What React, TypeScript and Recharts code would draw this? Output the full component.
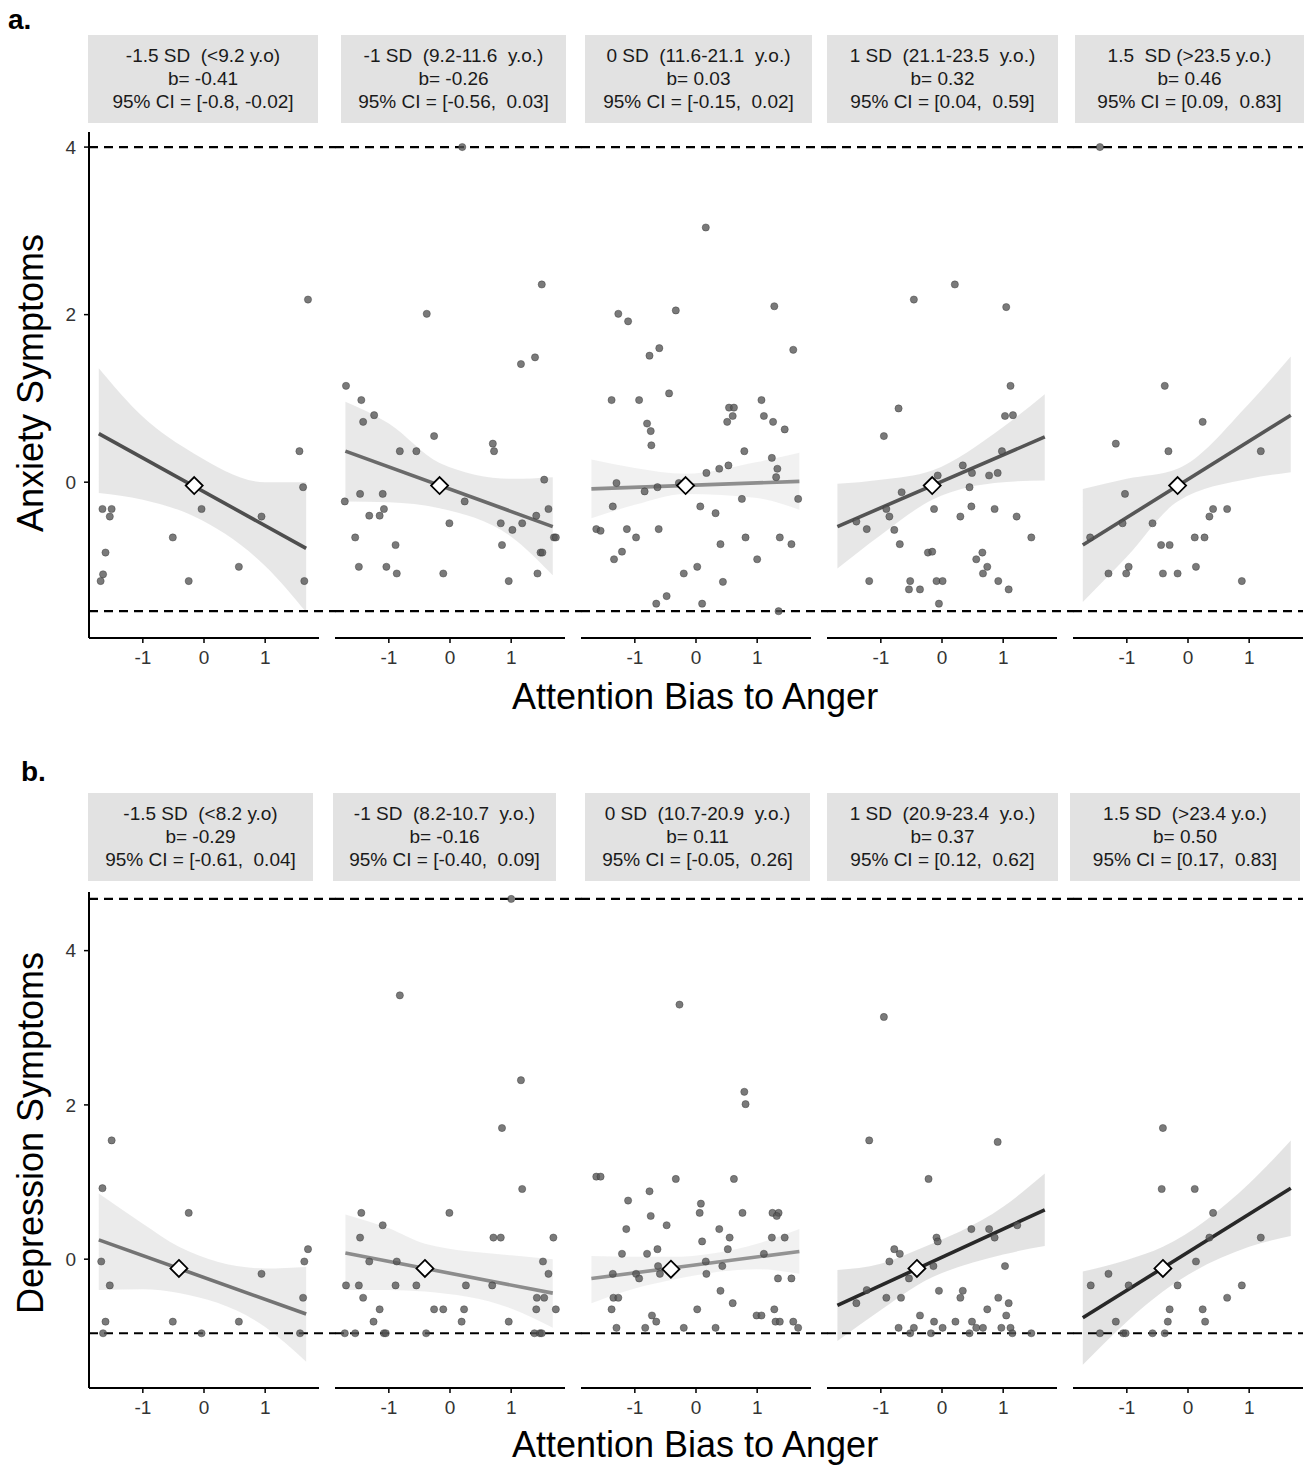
import React from 'react';
import { ComposedChart, Scatter, Area, Line, XAxis, YAxis, ReferenceLine } from 'recharts';

// ---- panel a: anxiety ----
const anxPts1 = [
  [-1.66, -0.32], [-1.51, -0.32], [-1.54, -0.41], [-1.61, -0.84], [-1.65, -1.1], [-1.69, -1.18],
  [-0.51, -0.66], [-0.25, -1.18], [-0.04, -0.32], [0.57, -1.01], [0.94, -0.41], [1.56, 0.37],
  [1.62, -0.06], [1.64, -1.18], [1.7, 2.18],
];
const anxPts2 = [
  [0.2, 4.0], [1.5, 2.36], [-0.38, 2.01], [1.39, 1.49], [1.16, 1.41], [-1.7, 1.15], [-1.45, 0.98],
  [-1.24, 0.8], [-1.42, 0.72], [-0.26, 0.55], [-0.82, 0.37], [-0.55, 0.37], [0.7, 0.46], [0.72, 0.37],
  [1.54, 0.03], [-1.47, -0.14], [-1.1, -0.14], [-1.72, -0.23], [0.24, -0.23], [-1.08, -0.32],
  [-1.32, -0.4], [-1.15, -0.4], [-0.01, -0.49], [0.83, -0.49], [1.02, -0.57], [1.18, -0.49],
  [1.41, -0.4], [1.61, -0.32], [-1.55, -0.66], [-0.89, -0.75], [0.85, -0.75], [1.7, -0.66],
  [1.73, -0.66], [1.48, -0.84], [1.51, -0.84], [-1.49, -1.01], [-1.04, -1.01], [-0.87, -1.09],
  [-0.11, -1.09], [1.43, -1.09], [0.96, -1.18],
];
const anxPts3 = [
  [0.16, 3.04], [-1.27, 2.01], [-1.11, 1.92], [-0.33, 2.05], [1.28, 2.1], [1.59, 1.58], [-0.76, 1.51],
  [-0.6, 1.6], [-0.44, 1.06], [-1.38, 0.98], [-0.93, 0.98], [1.07, 0.98], [0.54, 0.89], [0.62, 0.89],
  [0.6, 0.79], [0.51, 0.72], [1.11, 0.79], [1.26, 0.72], [1.45, 0.63], [-0.8, 0.7], [-0.74, 0.61],
  [-0.73, 0.44], [0.79, 0.37], [1.24, 0.29], [0.53, 0.2], [0.38, 0.16], [0.17, 0.11], [1.33, 0.16],
  [1.31, 0.06], [-1.3, -0.01], [-0.84, -0.11], [-0.63, -0.06], [-0.28, -0.01], [-1.36, -0.29],
  [0.07, -0.29], [0.75, -0.2], [1.67, -0.2], [0.32, -0.37], [-1.63, -0.56], [-1.56, -0.58],
  [-1.13, -0.56], [-0.61, -0.56], [-0.98, -0.66], [0.81, -0.66], [1.37, -0.66], [0.4, -0.74],
  [1.56, -0.74], [-1.21, -0.83], [-1.34, -0.92], [1.0, -0.92], [0.02, -1.01], [-0.2, -1.09],
  [0.44, -1.19], [-0.48, -1.36], [-0.65, -1.45], [0.1, -1.45], [1.35, -1.54],
];
const anxPts4 = [
  [0.21, 2.36], [-0.46, 2.18], [1.05, 2.09], [1.12, 1.15], [1.03, 0.79], [1.16, 0.8], [-0.71, 0.88],
  [-0.95, 0.55], [0.98, 0.37], [0.34, 0.2], [0.49, 0.11], [-0.07, 0.08], [0.77, 0.08], [0.91, 0.11],
  [0.45, -0.06], [-0.66, -0.12], [-0.91, -0.32], [-0.13, -0.32], [0.48, -0.29], [0.86, -0.32],
  [-0.86, -0.41], [0.3, -0.41], [1.22, -0.41], [-1.4, -0.47], [-1.23, -0.56], [-0.78, -0.57],
  [-0.69, -0.74], [1.46, -0.66], [-0.23, -0.84], [-0.16, -0.83], [0.66, -0.84], [0.56, -0.92],
  [0.74, -1.01], [0.67, -1.09], [-1.19, -1.18], [-0.52, -1.18], [-0.54, -1.28], [-0.36, -1.28],
  [-0.09, -1.18], [0.01, -1.18], [0.92, -1.18], [1.09, -1.28], [-0.05, -1.45],
];
const anxPts5 = [
  [-1.44, 4.0], [-0.38, 1.15], [0.24, 0.72], [-1.18, 0.46], [-0.32, 0.37], [1.19, 0.37], [-1.03, -0.14],
  [0.41, -0.32], [0.64, -0.32], [0.35, -0.41], [-1.07, -0.49], [-0.58, -0.49], [-1.6, -0.66],
  [0.11, -0.66], [0.27, -0.66], [-0.44, -0.75], [-0.3, -0.75], [-0.97, -1.01], [0.13, -1.01],
  [-1.3, -1.09], [-1.01, -1.09], [-0.41, -1.09], [-0.17, -1.09], [0.88, -1.18],
];

// confidence band: [x, lower, upper]
const anxBand1 = [[-1.72, -0.13, 1.36], [-1.0, -0.21, 0.78], [-0.16, -0.41, 0.34], [1.0, -1.0, 0.0], [1.67, -1.55, 0.0]];
const anxBand2 = [[-1.71, -0.23, 0.96], [-1.0, -0.24, 0.7], [-0.17, -0.31, 0.23], [1.0, -0.65, 0.04], [1.68, -1.11, 0.06]];
const anxBand3 = [[-1.71, -0.43, 0.27], [-1.0, -0.27, 0.17], [-0.17, -0.14, 0.1], [1.0, -0.19, 0.24], [1.69, -0.33, 0.35]];
const anxBand4 = [[-1.71, -1.03, -0.02], [-1.0, -0.63, 0.03], [-0.16, -0.21, 0.14], [1.0, 0.0, 0.66], [1.68, 0.02, 1.05]];
const anxBand5 = [[-1.72, -1.43, -0.08], [-1.0, -0.89, 0.04], [-0.17, -0.23, 0.16], [1.0, 0.04, 0.94], [1.68, 0.12, 1.5]];

// fitted line: [x0, y0, x1, y1]
const anxFit = [
  [-1.72, 0.58, 1.67, -0.79],
  [-1.71, 0.37, 1.68, -0.53],
  [-1.71, -0.08, 1.69, 0.01],
  [-1.71, -0.53, 1.68, 0.54],
  [-1.72, -0.75, 1.68, 0.8],
];
const anxCenter = [[-0.16, -0.04], [-0.17, -0.04], [-0.17, -0.04], [-0.16, -0.04], [-0.17, -0.04]];

// ---- panel b: depression ----
const depPts1 = [
  [-1.51, 1.54], [-1.66, 0.92], [-0.25, 0.6], [-1.68, -0.03], [-1.54, -0.34], [-1.61, -0.81],
  [-1.65, -0.96], [-0.51, -0.81], [-0.04, -0.96], [0.57, -0.81], [0.94, -0.19], [1.7, 0.13],
  [1.64, -0.03], [1.62, -0.5], [1.57, -0.96],
];
const depPts2 = [
  [1.0, 4.67], [-0.82, 3.42], [1.16, 2.32], [0.85, 1.7], [1.18, 0.91], [-1.45, 0.6], [-0.01, 0.6],
  [-1.1, 0.44], [-1.47, 0.28], [0.71, 0.28], [0.83, 0.28], [1.69, 0.28], [-1.32, -0.03], [-0.87, -0.03],
  [1.52, -0.03], [1.61, -0.19], [-1.7, -0.34], [-1.49, -0.34], [-0.89, -0.34], [-0.55, -0.34],
  [0.26, -0.34], [0.69, -0.34], [-1.42, -0.5], [1.42, -0.5], [1.54, -0.5], [-1.15, -0.65],
  [-0.26, -0.65], [-0.11, -0.65], [0.23, -0.65], [1.41, -0.65], [1.73, -0.65], [-1.25, -0.81],
  [0.19, -0.81], [0.96, -0.81], [-1.72, -0.96], [-1.55, -0.96], [-1.08, -0.96], [-1.05, -0.96],
  [-0.39, -0.96], [1.38, -0.96], [1.47, -0.96], [1.5, -0.96],
];
const depPts3 = [
  [-0.27, 3.3], [0.79, 2.17], [0.81, 2.01], [-1.63, 1.07], [-1.56, 1.07], [-0.33, 1.04], [0.62, 1.04],
  [-0.76, 0.88], [-1.11, 0.76], [0.08, 0.72], [0.06, 0.6], [0.76, 0.6], [1.25, 0.6], [1.35, 0.6],
  [1.32, 0.56], [-0.74, 0.56], [-0.48, 0.44], [-1.14, 0.39], [0.38, 0.39], [0.55, 0.28], [1.24, 0.28],
  [1.45, 0.28], [0.1, 0.23], [0.52, 0.13], [-0.63, 0.13], [-0.8, 0.07], [-1.21, 0.07], [1.11, 0.07],
  [0.16, -0.03], [-0.62, -0.09], [0.43, -0.09], [-1.36, -0.19], [-0.98, -0.19], [-0.59, -0.19],
  [0.17, -0.19], [-0.93, -0.25], [1.34, -0.25], [1.56, -0.25], [0.4, -0.41], [-1.35, -0.5],
  [-1.27, -0.5], [0.6, -0.57], [-1.38, -0.65], [0.02, -0.65], [1.28, -0.65], [-0.72, -0.73],
  [0.99, -0.73], [1.07, -0.73], [-0.65, -0.81], [1.3, -0.81], [1.37, -0.81], [1.59, -0.81],
  [-1.3, -0.89], [-0.83, -0.89], [-0.2, -0.89], [0.32, -0.89], [1.67, -0.89],
];
const depPts4 = [
  [-0.95, 3.14], [-1.19, 1.54], [0.91, 1.52], [-0.22, 1.04], [0.48, 0.39], [0.77, 0.39], [1.23, 0.44],
  [0.86, 0.28], [-0.09, 0.28], [-0.07, 0.23], [-0.78, 0.13], [-0.69, 0.07], [-0.86, -0.03],
  [-0.14, -0.09], [1.03, -0.09], [-0.54, -0.25], [-1.23, -0.4], [-0.05, -0.41], [0.34, -0.41],
  [-0.91, -0.5], [-0.67, -0.5], [0.3, -0.5], [0.92, -0.5], [-1.4, -0.57], [1.09, -0.57], [0.74, -0.65],
  [-0.36, -0.73], [1.05, -0.73], [-0.71, -0.89], [-0.46, -0.89], [-0.13, -0.81], [0.01, -0.89],
  [0.22, -0.81], [0.49, -0.81], [0.56, -0.89], [0.67, -0.89], [0.97, -0.89], [1.12, -0.89],
  [-0.52, -0.96], [-0.18, -0.96], [0.45, -0.96], [1.15, -0.96], [1.46, -0.96],
];
const depPts5 = [
  [-0.41, 1.7], [-0.43, 0.91], [0.11, 0.91], [0.41, 0.6], [0.35, 0.28], [1.19, 0.28], [0.13, -0.03],
  [-1.3, -0.19], [-1.59, -0.34], [-0.97, -0.34], [-0.17, -0.34], [0.88, -0.34], [0.64, -0.5],
  [-0.3, -0.65], [0.24, -0.65], [-1.18, -0.81], [-0.33, -0.81], [0.28, -0.81], [-1.44, -0.96],
  [-1.06, -0.96], [-1.02, -0.96], [-0.58, -0.96], [-0.38, -0.96],
];

const depBand1 = [[-1.72, -0.4, 0.85], [-1.0, -0.39, 0.46], [-0.41, -0.44, 0.16], [1.0, -0.88, -0.12], [1.67, -1.33, -0.1]];
const depBand2 = [[-1.71, -0.4, 0.58], [-1.0, -0.4, 0.4], [-0.41, -0.42, 0.2], [1.0, -0.64, 0.05], [1.68, -0.89, 0.0]];
const depBand3 = [[-1.71, -0.57, 0.04], [-1.0, -0.38, 0.03], [-0.41, -0.27, 0.03], [1.0, -0.13, 0.2], [1.69, -0.19, 0.39]];
const depBand4 = [[-1.71, -1.06, -0.14], [-1.0, -0.66, -0.06], [-0.41, -0.34, 0.12], [1.0, 0.06, 0.68], [1.68, 0.17, 1.11]];
const depBand5 = [[-1.72, -1.37, -0.16], [-1.0, -0.81, -0.01], [-0.41, -0.42, 0.16], [1.0, 0.16, 0.98], [1.68, 0.3, 1.54]];

const depFit = [
  [-1.72, 0.25, 1.67, -0.71],
  [-1.71, 0.08, 1.68, -0.44],
  [-1.71, -0.25, 1.69, 0.1],
  [-1.71, -0.6, 1.68, 0.64],
  [-1.72, -0.76, 1.68, 0.92],
];
const depCenter = [[-0.41, -0.12], [-0.41, -0.12], [-0.41, -0.13], [-0.41, -0.12], [-0.41, -0.12]];

const anxStrips = [
  ['-1.5 SD  (<9.2 y.o)', 'b= -0.41', '95% CI = [-0.8, -0.02]'],
  ['-1 SD  (9.2-11.6  y.o.)', 'b= -0.26', '95% CI = [-0.56,  0.03]'],
  ['0 SD  (11.6-21.1  y.o.)', 'b= 0.03', '95% CI = [-0.15,  0.02]'],
  ['1 SD  (21.1-23.5  y.o.)', 'b= 0.32', '95% CI = [0.04,  0.59]'],
  ['1.5  SD (>23.5 y.o.)', 'b= 0.46', '95% CI = [0.09,  0.83]'],
];
const depStrips = [
  ['-1.5 SD  (<8.2 y.o)', 'b= -0.29', '95% CI = [-0.61,  0.04]'],
  ['-1 SD  (8.2-10.7  y.o.)', 'b= -0.16', '95% CI = [-0.40,  0.09]'],
  ['0 SD  (10.7-20.9  y.o.)', 'b= 0.11', '95% CI = [-0.05,  0.26]'],
  ['1 SD  (20.9-23.4  y.o.)', 'b= 0.37', '95% CI = [0.12,  0.62]'],
  ['1.5 SD  (>23.4 y.o.)', 'b= 0.50', '95% CI = [0.17,  0.83]'],
];

const xTicks = [-1, 0, 1];
const yTicks = [0, 2, 4];
const anxRefs = [4, -1.54];
const depRefs = [4.67, -0.96];

// layout
const FONT = '"Liberation Sans", Arial, Helvetica, sans-serif';
const X_DOMAIN: [number, number] = [-1.88, 1.88];
const PANEL_LEFT = [89, 335, 581, 827, 1073];
const PANEL_W = 230;
const GAP_UNITS = 0.27;
const Y_AXIS_W = 44;
const M_TOP = 6;
const M_LEFT = 4;
const M_RIGHT = 20;
const X_AXIS_H = 44;

const anxLineColors = ['#4e4e4e', '#6a6a6a', '#8e8e8e', '#545454', '#565656'];
const depLineColors = ['#737373', '#8c8c8c', '#939393', '#282828', '#282828'];
const anxBandAlpha = [0.24, 0.22, 0.14, 0.24, 0.24];
const depBandAlpha = [0.2, 0.16, 0.14, 0.28, 0.28];

const anxBoxes = [[88, 318], [341, 566], [585, 812], [827, 1058], [1075, 1304]];
const depBoxes = [[88, 313], [333, 556], [585, 810], [827, 1058], [1070, 1300]];

const dot = (p: any) => (
  <circle cx={p.cx} cy={p.cy} r={3.6} fill="#555" fillOpacity={0.78} stroke="#333" strokeOpacity={0.5} strokeWidth={0.8} />
);

const diamond = (p: any) => {
  const { cx, cy } = p;
  const s = 8.5;
  return (
    <polygon
      points={`${cx},${cy - s} ${cx + s},${cy} ${cx},${cy + s} ${cx - s},${cy}`}
      fill="#fff"
      stroke="#000"
      strokeWidth={1.8}
    />
  );
};

const XTick = (p: any) => (
  <text x={p.x} y={p.y} dy="0.71em" textAnchor="middle" fontSize={19} fill="#333" fontFamily={FONT}>
    {p.payload.value}
  </text>
);

const YTick = (p: any) => (
  <text x={p.x} y={p.y} dy="0.36em" textAnchor="end" fontSize={19} fill="#333" fontFamily={FONT}>
    {p.payload.value}
  </text>
);

interface PanelProps {
  idx: number;
  pts: number[][];
  band: number[][];
  fit: number[];
  center: number[];
  plotTop: number;
  plotH: number;
  yDomain: [number, number];
  refs: number[];
  color: string;
  alpha: number;
}

const Panel = ({ idx, pts, band, fit, center, plotTop, plotH, yDomain, refs, color, alpha }: PanelProps) => {
  const showY = idx === 0;
  const isLast = idx === 4;
  const rows = band.map(([x, lo, hi]) => ({
    x,
    band: [lo, hi],
    fit: x === fit[0] ? fit[1] : x === fit[2] ? fit[3] : null,
  }));
  const scatterData = pts.map(([x, y]) => ({ x, y }));
  const centerData = [{ x: center[0], y: center[1] }];
  const extraW = showY ? Y_AXIS_W : 0;
  const width = extraW + M_LEFT + PANEL_W + M_RIGHT;
  const height = M_TOP + plotH + X_AXIS_H;
  const xEnd = isLast ? X_DOMAIN[1] : X_DOMAIN[1] + GAP_UNITS;

  return (
    <div style={{ position: 'absolute', left: PANEL_LEFT[idx] - M_LEFT - extraW, top: plotTop - M_TOP }}>
      <ComposedChart
        width={width}
        height={height}
        data={rows}
        margin={{ top: M_TOP, right: M_RIGHT, bottom: 0, left: M_LEFT }}
      >
        <XAxis
          type="number"
          dataKey="x"
          domain={X_DOMAIN}
          ticks={xTicks}
          allowDataOverflow
          height={X_AXIS_H}
          axisLine={{ stroke: '#000', strokeWidth: 2 }}
          tickLine={{ stroke: '#000', strokeWidth: 1.5 }}
          tickSize={5}
          tickMargin={8}
          tick={<XTick />}
        />
        <YAxis
          type="number"
          dataKey="y"
          domain={yDomain}
          ticks={yTicks}
          allowDataOverflow
          hide={!showY}
          width={Y_AXIS_W}
          axisLine={{ stroke: '#000', strokeWidth: 2 }}
          tickLine={{ stroke: '#000', strokeWidth: 1.5 }}
          tickSize={5}
          tickMargin={8}
          tick={<YTick />}
        />
        <Scatter data={scatterData} shape={dot} isAnimationActive={false} />
        <Area
          type="monotone"
          dataKey="band"
          stroke="none"
          fill="#9a9a9a"
          fillOpacity={alpha}
          isAnimationActive={false}
        />
        <Line
          type="linear"
          dataKey="fit"
          stroke={color}
          strokeWidth={3.6}
          dot={false}
          connectNulls
          isAnimationActive={false}
        />
        <Scatter data={centerData} shape={diamond} isAnimationActive={false} />
        {refs.map((r) => (
          <ReferenceLine
            key={r}
            segment={[{ x: X_DOMAIN[0], y: r }, { x: xEnd, y: r }]}
            ifOverflow="visible"
            stroke="#000"
            strokeWidth={2.2}
            strokeDasharray="9 6"
          />
        ))}
      </ComposedChart>
    </div>
  );
};

const Strip = ({ lines, box, top }: { lines: string[]; box: number[]; top: number }) => (
  <div
    style={{
      position: 'absolute',
      left: box[0],
      top,
      width: box[1] - box[0],
      height: 88,
      background: '#e2e2e2',
      fontFamily: FONT,
      fontSize: 19,
      lineHeight: '23px',
      color: '#1a1a1a',
      textAlign: 'center',
      whiteSpace: 'pre',
      paddingTop: 9,
      boxSizing: 'border-box',
    }}
  >
    {lines.map((l, i) => (
      <div key={i}>{l}</div>
    ))}
  </div>
);

const YTitle = ({ text, cy }: { text: string; cy: number }) => (
  <div
    style={{
      position: 'absolute',
      left: 31 - 250,
      top: cy - 21,
      width: 500,
      height: 42,
      lineHeight: '42px',
      textAlign: 'center',
      fontFamily: FONT,
      fontSize: 36,
      color: '#000',
      transform: 'rotate(-90deg)',
      transformOrigin: '50% 50%',
    }}
  >
    {text}
  </div>
);

const XTitle = ({ text, cy }: { text: string; cy: number }) => (
  <div
    style={{
      position: 'absolute',
      left: 445,
      top: cy - 21,
      width: 500,
      height: 42,
      lineHeight: '42px',
      textAlign: 'center',
      fontFamily: FONT,
      fontSize: 36,
      color: '#000',
    }}
  >
    {text}
  </div>
);

const anxPts = [anxPts1, anxPts2, anxPts3, anxPts4, anxPts5];
const anxBands = [anxBand1, anxBand2, anxBand3, anxBand4, anxBand5];
const depPts = [depPts1, depPts2, depPts3, depPts4, depPts5];
const depBands = [depBand1, depBand2, depBand3, depBand4, depBand5];

export default function App() {
  return (
    <div style={{ position: 'absolute', left: 0, top: 0, width: 1309, height: 1466, background: '#fff', overflow: 'hidden' }}>
      <div style={{ position: 'absolute', left: 8, top: 4, fontFamily: FONT, fontWeight: 'bold', fontSize: 28 }}>a.</div>
      <div style={{ position: 'absolute', left: 21, top: 756, fontFamily: FONT, fontWeight: 'bold', fontSize: 28 }}>b.</div>

      {anxStrips.map((lines, i) => (
        <Strip key={`sa${i}`} lines={lines} box={anxBoxes[i]} top={35} />
      ))}
      {depStrips.map((lines, i) => (
        <Strip key={`sb${i}`} lines={lines} box={depBoxes[i]} top={793} />
      ))}

      {anxPts.map((pts, i) => (
        <Panel
          key={`a${i}`}
          idx={i}
          pts={pts}
          band={anxBands[i]}
          fit={anxFit[i]}
          center={anxCenter[i]}
          plotTop={132}
          plotH={506}
          yDomain={[-1.86, 4.18]}
          refs={anxRefs}
          color={anxLineColors[i]}
          alpha={anxBandAlpha[i]}
        />
      ))}
      {depPts.map((pts, i) => (
        <Panel
          key={`b${i}`}
          idx={i}
          pts={pts}
          band={depBands[i]}
          fit={depFit[i]}
          center={depCenter[i]}
          plotTop={892}
          plotH={496}
          yDomain={[-1.67, 4.76]}
          refs={depRefs}
          color={depLineColors[i]}
          alpha={depBandAlpha[i]}
        />
      ))}

      <YTitle text="Anxiety Symptoms" cy={383} />
      <YTitle text="Depression Symptoms" cy={1133} />
      <XTitle text="Attention Bias to Anger" cy={697} />
      <XTitle text="Attention Bias to Anger" cy={1445} />
    </div>
  );
}
